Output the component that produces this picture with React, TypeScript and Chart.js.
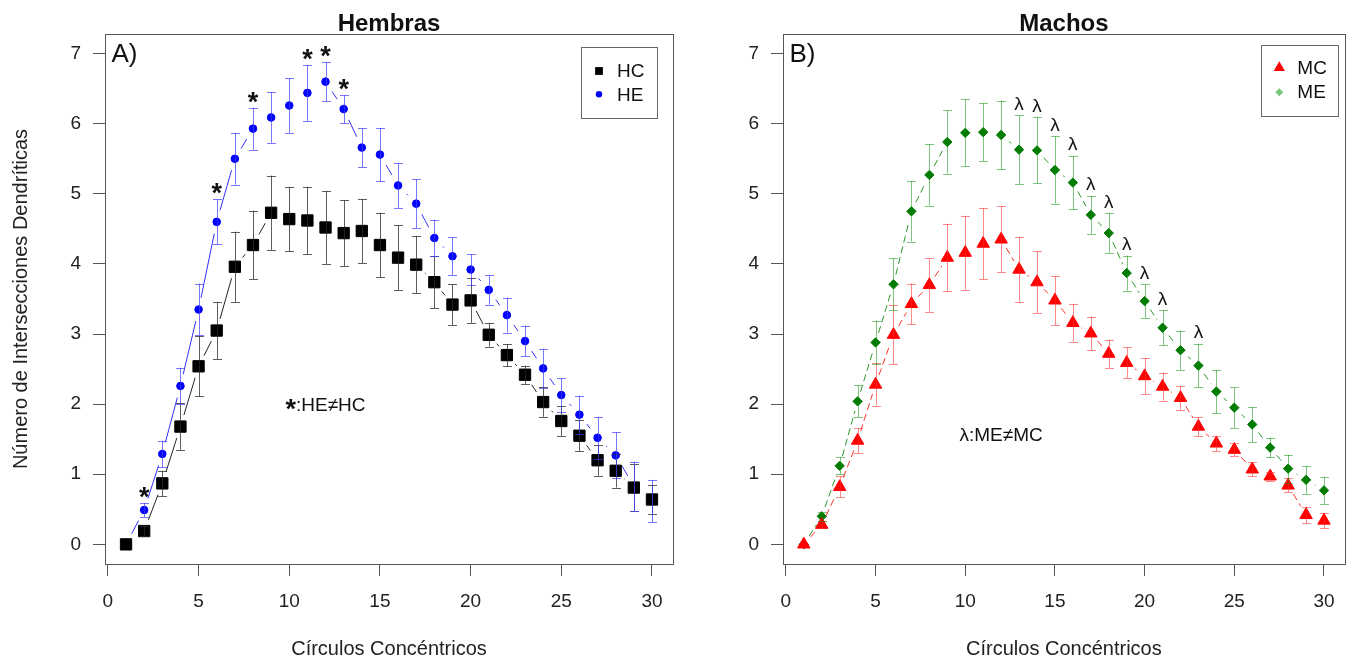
import React, { useEffect, useRef } from 'react';
import { Chart, registerables } from 'chart.js';

Chart.register(...registerables);

// ---------- data ----------
const circles = [1, 2, 3, 4, 5, 6, 7, 8, 9, 10, 11, 12, 13, 14, 15, 16, 17, 18, 19, 20, 21, 22, 23, 24, 25, 26, 27, 28, 29, 30];
const xTicks = [0, 5, 10, 15, 20, 25, 30];
const yTicks = [0, 1, 2, 3, 4, 5, 6, 7];

const hcMean = [0, 0.19, 0.87, 1.68, 2.54, 3.05, 3.96, 4.27, 4.73, 4.64, 4.62, 4.52, 4.44, 4.47, 4.27, 4.09, 3.99, 3.74, 3.42, 3.48, 2.99, 2.70, 2.42, 2.03, 1.76, 1.55, 1.20, 1.05, 0.81, 0.64];
const hcErr = [0, 0.07, 0.18, 0.33, 0.43, 0.41, 0.5, 0.49, 0.53, 0.46, 0.48, 0.52, 0.47, 0.46, 0.46, 0.46, 0.41, 0.37, 0.29, 0.32, 0.17, 0.16, 0.13, 0.21, 0.22, 0.22, 0.22, 0.24, 0.33, 0.21];
const heMean = [0, 0.49, 1.29, 2.26, 3.35, 4.60, 5.50, 5.93, 6.09, 6.26, 6.44, 6.60, 6.21, 5.66, 5.56, 5.12, 4.86, 4.37, 4.11, 3.92, 3.63, 3.27, 2.90, 2.51, 2.13, 1.85, 1.52, 1.27, 0.83, 0.62];
const heErr = [0, 0.1, 0.19, 0.26, 0.37, 0.32, 0.37, 0.3, 0.36, 0.39, 0.40, 0.28, 0.2, 0.28, 0.38, 0.32, 0.35, 0.26, 0.27, 0.22, 0.21, 0.25, 0.22, 0.28, 0.24, 0.27, 0.3, 0.33, 0.35, 0.3];

const mcMean = [0, 0.28, 0.82, 1.48, 2.28, 2.99, 3.43, 3.70, 4.09, 4.16, 4.29, 4.35, 3.92, 3.74, 3.48, 3.16, 3.01, 2.72, 2.59, 2.40, 2.25, 2.09, 1.68, 1.44, 1.35, 1.07, 0.97, 0.84, 0.42, 0.34];
const mcErr = [0, 0.05, 0.15, 0.18, 0.3, 0.42, 0.29, 0.38, 0.48, 0.53, 0.51, 0.47, 0.46, 0.44, 0.35, 0.27, 0.24, 0.2, 0.22, 0.26, 0.2, 0.17, 0.14, 0.11, 0.09, 0.1, 0.06, 0.1, 0.12, 0.11];
const meMean = [0, 0.40, 1.12, 2.04, 2.88, 3.71, 4.75, 5.27, 5.74, 5.87, 5.88, 5.84, 5.63, 5.62, 5.34, 5.16, 4.70, 4.44, 3.87, 3.47, 3.09, 2.77, 2.55, 2.18, 1.95, 1.71, 1.38, 1.08, 0.92, 0.77];
const meErr = [0, 0.06, 0.12, 0.23, 0.31, 0.37, 0.43, 0.44, 0.45, 0.48, 0.41, 0.49, 0.49, 0.47, 0.48, 0.38, 0.27, 0.28, 0.25, 0.24, 0.25, 0.28, 0.31, 0.31, 0.29, 0.25, 0.14, 0.2, 0.2, 0.19];

// circles where the groups differ
const sigHembras = [2, 6, 8, 11, 12, 13];
const sigMachos = [13, 14, 15, 16, 17, 18, 19, 20, 21, 23];

const FONT = '"Liberation Sans", Arial, Helvetica, sans-serif';

type Series = {
  label: string;
  mean: number[];
  err: number[];
  pointStyle: string;
  radius: number;
  color: string;
  lineColor: string;
  barColor: string;
  dash: number[];
  gap: number;
  legendColor: string;
  legendRadius: number;
};

type Panel = {
  canvasLeft: number;
  width: number;
  yAxisWidth: number;
  padRight: number;
  title: string;
  tag: string;
  series: Series[];
  sigSeries: number;
  sigCircles: number[];
  sigMark: string;
  sigFont: string;
  sigOffset: number;
  annot: { x: number; y: number; mark: string; markFont: string; text: string };
  legendInsetRight: number;
  legendInsetTop: number;
  legendW: number;
  legendH: number;
  legendRow1: number;
  legendRow2: number;
  yTitle: boolean;
};

const panels: Panel[] = [
  {
    canvasLeft: 0,
    width: 700,
    yAxisWidth: 105,
    padRight: 27,
    title: 'Hembras',
    tag: 'A)',
    series: [
      { label: 'HC', mean: hcMean, err: hcErr, pointStyle: 'rect', radius: 8, color: '#000000', lineColor: '#222222', barColor: 'rgba(40,40,40,0.75)', dash: [], gap: 12, legendColor: '#000000', legendRadius: 5.5 },
      { label: 'HE', mean: heMean, err: heErr, pointStyle: 'circle', radius: 3.8, color: '#0000ff', lineColor: '#3030ff', barColor: 'rgba(60,60,255,0.7)', dash: [], gap: 12, legendColor: '#0000ff', legendRadius: 3.2 },
    ],
    sigSeries: 1,
    sigCircles: sigHembras,
    sigMark: '*',
    sigFont: `bold 27px ${FONT}`,
    sigOffset: 10.5,
    annot: { x: 12, y: 2, mark: '*', markFont: `bold 27px ${FONT}`, text: ':HE≠HC' },
    legendInsetRight: 17,
    legendInsetTop: 12.5,
    legendW: 75.5,
    legendH: 71,
    legendRow1: 24.5,
    legendRow2: 47.8,
    yTitle: true,
  },
  {
    canvasLeft: 700,
    width: 653,
    yAxisWidth: 83,
    padRight: 5,
    title: 'Machos',
    tag: 'B)',
    series: [
      { label: 'MC', mean: mcMean, err: mcErr, pointStyle: 'triangle', radius: 7.2, color: '#ff0000', lineColor: '#ff3030', barColor: 'rgba(255,40,40,0.55)', dash: [7, 4], gap: 10, legendColor: '#ff0000', legendRadius: 6.5 },
      { label: 'ME', mean: meMean, err: meErr, pointStyle: 'rectRot', radius: 4.7, color: '#007a00', lineColor: '#2a962a', barColor: 'rgba(0,140,0,0.5)', dash: [7, 4], gap: 10, legendColor: '#78c878', legendRadius: 4 },
    ],
    sigSeries: 1,
    sigCircles: sigMachos,
    sigMark: 'λ',
    sigFont: `19px ${FONT}`,
    sigOffset: 12,
    annot: { x: 12, y: 1.57, mark: 'λ', markFont: `19px ${FONT}`, text: ':ME≠MC' },
    legendInsetRight: 7.5,
    legendInsetTop: 10.5,
    legendW: 76.5,
    legendH: 71,
    legendRow1: 23.3,
    legendRow2: 47.7,
    yTitle: false,
  },
];

function drawMarker(ctx: CanvasRenderingContext2D, style: string, x: number, y: number, r: number, color: string) {
  ctx.save();
  ctx.fillStyle = color;
  ctx.beginPath();
  if (style === 'rect') {
    const s = r * Math.SQRT1_2;
    ctx.rect(x - s, y - s, 2 * s, 2 * s);
  } else if (style === 'circle') {
    ctx.arc(x, y, r, 0, Math.PI * 2);
  } else if (style === 'triangle') {
    ctx.moveTo(x, y - r);
    ctx.lineTo(x + r * Math.sin(Math.PI * 2 / 3), y + r / 2);
    ctx.lineTo(x - r * Math.sin(Math.PI * 2 / 3), y + r / 2);
    ctx.closePath();
  } else {
    ctx.moveTo(x - r, y);
    ctx.lineTo(x, y - r);
    ctx.lineTo(x + r, y);
    ctx.lineTo(x, y + r);
    ctx.closePath();
  }
  ctx.fill();
  ctx.restore();
}

function drawCenteredGlyph(ctx: CanvasRenderingContext2D, text: string, font: string, cx: number, cy: number) {
  ctx.font = font;
  ctx.textAlign = 'center';
  ctx.textBaseline = 'alphabetic';
  const m = ctx.measureText(text);
  const asc = m.actualBoundingBoxAscent;
  const desc = m.actualBoundingBoxDescent;
  ctx.fillText(text, cx, cy + (asc - desc) / 2);
}

function makeOverlay(panel: Panel) {
  return {
    id: 'overlay',
    beforeDatasetsDraw(chart: any) {
      const { ctx } = chart;
      const xs = chart.scales.x;
      const ys = chart.scales.y;
      ctx.save();
      panel.series.forEach((s) => {
        ctx.strokeStyle = s.lineColor;
        ctx.lineWidth = 1;
        for (let i = 0; i < circles.length - 1; i++) {
          const x1 = xs.getPixelForValue(circles[i]);
          const y1 = ys.getPixelForValue(s.mean[i]);
          const x2 = xs.getPixelForValue(circles[i + 1]);
          const y2 = ys.getPixelForValue(s.mean[i + 1]);
          const dx = x2 - x1;
          const dy = y2 - y1;
          const d = Math.hypot(dx, dy);
          if (d <= 2 * s.gap) continue;
          const ux = dx / d;
          const uy = dy / d;
          ctx.setLineDash(s.dash);
          ctx.lineDashOffset = 0;
          ctx.beginPath();
          ctx.moveTo(x1 + ux * s.gap, y1 + uy * s.gap);
          ctx.lineTo(x2 - ux * s.gap, y2 - uy * s.gap);
          ctx.stroke();
        }
      });
      ctx.restore();
    },
    afterDatasetsDraw(chart: any) {
      const { ctx } = chart;
      const xs = chart.scales.x;
      const ys = chart.scales.y;
      ctx.save();
      ctx.lineWidth = 1;
      ctx.setLineDash([]);
      panel.series.forEach((s) => {
        ctx.strokeStyle = s.barColor;
        for (let i = 0; i < circles.length; i++) {
          if (s.err[i] <= 0) continue;
          const px = Math.round(xs.getPixelForValue(circles[i])) + 0.5;
          const top = ys.getPixelForValue(s.mean[i] + s.err[i]);
          const bot = ys.getPixelForValue(s.mean[i] - s.err[i]);
          ctx.beginPath();
          ctx.moveTo(px, top);
          ctx.lineTo(px, bot);
          ctx.moveTo(px - 4.5, Math.round(top) + 0.5);
          ctx.lineTo(px + 4.5, Math.round(top) + 0.5);
          ctx.moveTo(px - 4.5, Math.round(bot) + 0.5);
          ctx.lineTo(px + 4.5, Math.round(bot) + 0.5);
          ctx.stroke();
        }
      });
      ctx.restore();
    },
    afterDraw(chart: any) {
      const { ctx, chartArea } = chart;
      const xs = chart.scales.x;
      const ys = chart.scales.y;
      const { left, right, top, bottom } = chartArea;
      ctx.save();
      // box
      ctx.strokeStyle = '#555555';
      ctx.lineWidth = 1;
      ctx.strokeRect(Math.round(left) + 0.5, Math.round(top) + 0.5, Math.round(right - left), Math.round(bottom - top));

      ctx.fillStyle = '#111111';
      // panel title
      ctx.font = `bold 24px ${FONT}`;
      ctx.textAlign = 'center';
      ctx.textBaseline = 'alphabetic';
      ctx.fillText(panel.title, (left + right) / 2, 31);
      // tag
      ctx.font = `26px ${FONT}`;
      ctx.textAlign = 'left';
      ctx.fillText(panel.tag, left + 6.5, 61.5);
      // x title
      ctx.font = `20px ${FONT}`;
      ctx.textAlign = 'center';
      ctx.fillStyle = '#222222';
      ctx.fillText('Círculos Concéntricos', (left + right) / 2, 655);
      // y title
      if (panel.yTitle) {
        ctx.save();
        ctx.translate(27, (top + bottom) / 2);
        ctx.rotate(-Math.PI / 2);
        ctx.textAlign = 'center';
        ctx.textBaseline = 'alphabetic';
        ctx.fillText('Número de Intersecciones Dendríticas', 0, 0);
        ctx.restore();
      }

      // significance marks
      ctx.fillStyle = '#111111';
      const ss = panel.series[panel.sigSeries];
      panel.sigCircles.forEach((c) => {
        const i = circles.indexOf(c);
        const px = xs.getPixelForValue(c);
        const py = ys.getPixelForValue(ss.mean[i] + ss.err[i]) - panel.sigOffset;
        drawCenteredGlyph(ctx, panel.sigMark, panel.sigFont, px, py);
      });

      // annotation
      const ax = xs.getPixelForValue(panel.annot.x);
      const ay = ys.getPixelForValue(panel.annot.y);
      ctx.font = panel.annot.markFont;
      const mw = ctx.measureText(panel.annot.mark).width;
      ctx.font = `19px ${FONT}`;
      const tm = ctx.measureText(panel.annot.text);
      const tw = tm.width;
      const startX = ax - (mw + tw) / 2;
      const capC = ay;
      drawCenteredGlyph(ctx, panel.annot.mark, panel.annot.markFont, startX + mw / 2, capC);
      ctx.font = `19px ${FONT}`;
      ctx.textAlign = 'left';
      ctx.textBaseline = 'alphabetic';
      const capH = tm.actualBoundingBoxAscent;
      ctx.fillText(panel.annot.text, startX + mw, capC + capH / 2);

      // legend
      const lx = right - panel.legendInsetRight - panel.legendW;
      const ly = top + panel.legendInsetTop;
      ctx.strokeStyle = '#666666';
      ctx.lineWidth = 1;
      ctx.strokeRect(Math.round(lx) + 0.5, Math.round(ly) + 0.5, Math.round(panel.legendW), Math.round(panel.legendH));
      const rows = [panel.legendRow1, panel.legendRow2];
      panel.series.forEach((s, k) => {
        const ry = ly + rows[k];
        drawMarker(ctx, s.pointStyle, lx + 18.5, ry, s.legendRadius, s.legendColor);
        ctx.fillStyle = '#111111';
        ctx.font = `19px ${FONT}`;
        ctx.textAlign = 'left';
        ctx.textBaseline = 'middle';
        ctx.fillText(s.label, lx + 36.5, ry + 1);
      });
      ctx.restore();
    },
  };
}

function PanelChart({ panel }: { panel: Panel }) {
  const ref = useRef<HTMLCanvasElement>(null);
  useEffect(() => {
    if (!ref.current) return;
    const datasets = panel.series.map((s) => ({
      label: s.label,
      data: circles.map((c, i) => ({ x: c, y: s.mean[i] })),
      pointStyle: s.pointStyle,
      pointRadius: s.radius,
      pointHoverRadius: s.radius,
      pointBackgroundColor: s.color,
      pointBorderColor: s.color,
      pointBorderWidth: 1,
      showLine: false,
    }));
    const chart = new Chart(ref.current, {
      type: 'scatter',
      data: { datasets: datasets as any },
      options: {
        animation: false,
        responsive: false,
        maintainAspectRatio: false,
        events: [],
        layout: { padding: { left: 0, right: panel.padRight, top: 34, bottom: 0 } },
        plugins: {
          legend: { display: false },
          title: { display: false },
          tooltip: { enabled: false },
        },
        scales: {
          x: {
            type: 'linear',
            position: 'bottom',
            min: -0.16,
            max: 31.16,
            afterBuildTicks: (scale: any) => {
              scale.ticks = xTicks.map((v) => ({ value: v }));
            },
            afterFit: (scale: any) => {
              scale.height = 95;
            },
            ticks: {
              color: '#222222',
              font: { family: FONT, size: 19 },
              padding: 14,
              maxRotation: 0,
              autoSkip: false,
            },
            grid: { drawOnChartArea: false, drawTicks: true, tickLength: 12, color: '#555555' },
            border: { display: false },
          },
          y: {
            type: 'linear',
            position: 'left',
            min: -0.28,
            max: 7.28,
            afterBuildTicks: (scale: any) => {
              scale.ticks = yTicks.map((v) => ({ value: v }));
            },
            afterFit: (scale: any) => {
              scale.width = panel.yAxisWidth;
            },
            ticks: {
              color: '#222222',
              font: { family: FONT, size: 19 },
              padding: 12,
              autoSkip: false,
            },
            grid: { drawOnChartArea: false, drawTicks: true, tickLength: 12, color: '#555555' },
            border: { display: false },
          },
        },
      },
      plugins: [makeOverlay(panel)],
    });
    return () => chart.destroy();
  }, [panel]);
  return (
    <canvas
      ref={ref}
      width={panel.width}
      height={659}
      style={{ position: 'absolute', left: panel.canvasLeft, top: 0, width: panel.width, height: 659 }}
    />
  );
}

export default function App() {
  return (
    <div style={{ position: 'absolute', left: 0, top: 0, width: 1353, height: 659, background: '#ffffff', overflow: 'hidden' }}>
      {panels.map((p) => (
        <PanelChart key={p.title} panel={p} />
      ))}
    </div>
  );
}
